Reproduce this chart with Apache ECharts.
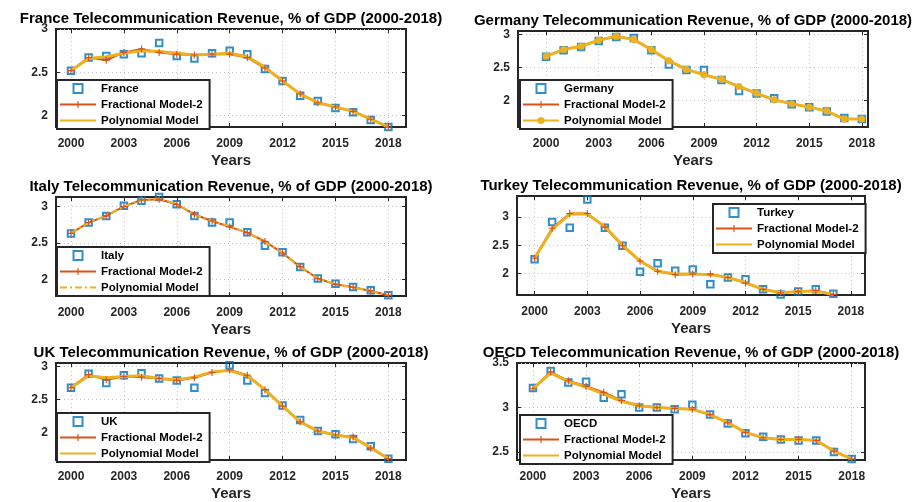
<!DOCTYPE html>
<html>
<head>
<meta charset="utf-8">
<script src="https://cdn.jsdelivr.net/npm/echarts@6/dist/echarts.min.js"></script>
<style>
  html, body { margin: 0; padding: 0; background: #ffffff; }
  #chart { width: 924px; height: 502px; }
</style>
</head>
<body>
<div id="chart"></div>
<script>
// Telecommunication revenue as % of GDP, observed values and two fitted models.
const years = [2000, 2001, 2002, 2003, 2004, 2005, 2006, 2007, 2008, 2009,
               2010, 2011, 2012, 2013, 2014, 2015, 2016, 2017, 2018];
const yearTicks = [2000, 2003, 2006, 2009, 2012, 2015, 2018];
const revenueTicks = [2, 2.5, 3];
const oecdTicks = [2.5, 3, 3.5];

const franceRevenue    = [2.52, 2.67, 2.69, 2.71, 2.72, 2.84, 2.69, 2.66, 2.72, 2.75, 2.71, 2.54, 2.40, 2.23, 2.17, 2.09, 2.04, 1.95, 1.87];
const franceFractional = [2.52, 2.67, 2.64, 2.73, 2.77, 2.73, 2.71, 2.70, 2.71, 2.71, 2.67, 2.55, 2.40, 2.25, 2.15, 2.10, 2.05, 1.96, 1.87];
const francePolynomial = [2.52, 2.66, 2.68, 2.72, 2.75, 2.74, 2.72, 2.70, 2.71, 2.72, 2.68, 2.56, 2.40, 2.25, 2.15, 2.10, 2.05, 1.96, 1.87];

const germanyRevenue    = [2.66, 2.76, 2.81, 2.90, 2.96, 2.945, 2.76, 2.545, 2.46, 2.46, 2.31, 2.145, 2.105, 2.035, 1.945, 1.90, 1.835, 1.735, 1.72];
const germanyFractional = [2.67, 2.77, 2.82, 2.91, 2.97, 2.92, 2.77, 2.60, 2.47, 2.39, 2.32, 2.21, 2.11, 2.01, 1.95, 1.90, 1.84, 1.72, 1.72];
const germanyPolynomial = [2.67, 2.77, 2.82, 2.91, 2.97, 2.92, 2.77, 2.60, 2.47, 2.39, 2.32, 2.21, 2.11, 2.01, 1.95, 1.90, 1.84, 1.72, 1.72];

const italyRevenue    = [2.63, 2.78, 2.87, 3.01, 3.08, 3.13, 3.03, 2.87, 2.78, 2.78, 2.645, 2.46, 2.37, 2.17, 2.01, 1.94, 1.895, 1.85, 1.78];
const italyFractional = [2.63, 2.78, 2.87, 3.00, 3.09, 3.10, 3.03, 2.89, 2.80, 2.72, 2.64, 2.52, 2.36, 2.17, 2.01, 1.93, 1.89, 1.84, 1.78];
const italyPolynomial = [2.63, 2.78, 2.87, 3.00, 3.09, 3.11, 3.03, 2.89, 2.80, 2.73, 2.64, 2.51, 2.36, 2.17, 2.01, 1.93, 1.89, 1.84, 1.78];

// Turkey series stop at 2017
const turkeyRevenue    = [2.25, 2.91, 2.81, 3.31, 2.81, 2.49, 2.03, 2.18, 2.05, 2.07, 1.81, 1.93, 1.90, 1.72, 1.63, 1.68, 1.72, 1.64];
const turkeyFractional = [2.27, 2.80, 3.06, 3.06, 2.82, 2.49, 2.22, 2.04, 1.98, 1.99, 1.99, 1.93, 1.83, 1.72, 1.66, 1.68, 1.70, 1.63];
const turkeyPolynomial = [2.27, 2.78, 3.05, 3.05, 2.83, 2.50, 2.22, 2.04, 1.99, 1.99, 1.98, 1.93, 1.84, 1.72, 1.66, 1.68, 1.69, 1.63];

const ukRevenue    = [2.68, 2.89, 2.75, 2.87, 2.90, 2.82, 2.79, 2.68, 3.06, 3.02, 2.79, 2.60, 2.41, 2.19, 2.02, 1.97, 1.90, 1.79, 1.60];
const ukFractional = [2.68, 2.88, 2.80, 2.85, 2.84, 2.82, 2.79, 2.83, 2.91, 2.95, 2.87, 2.65, 2.40, 2.16, 2.02, 1.96, 1.93, 1.76, 1.60];
const ukPolynomial = [2.68, 2.86, 2.83, 2.85, 2.86, 2.82, 2.80, 2.84, 2.92, 2.94, 2.86, 2.65, 2.40, 2.16, 2.02, 1.96, 1.92, 1.77, 1.60];

const oecdRevenue    = [3.22, 3.41, 3.28, 3.29, 3.11, 3.15, 3.00, 3.00, 2.98, 3.03, 2.92, 2.82, 2.71, 2.67, 2.64, 2.63, 2.63, 2.50, 2.42];
const oecdFractional = [3.21, 3.40, 3.30, 3.24, 3.17, 3.08, 3.02, 3.00, 2.99, 2.98, 2.92, 2.83, 2.72, 2.66, 2.64, 2.64, 2.63, 2.51, 2.42];
const oecdPolynomial = [3.21, 3.39, 3.29, 3.23, 3.15, 3.07, 3.02, 3.00, 2.99, 2.98, 2.92, 2.83, 2.72, 2.66, 2.64, 2.64, 2.63, 2.51, 2.42];

const FRACTIONAL = 'Fractional Model-2';
const POLYNOMIAL = 'Polynomial Model';

// Panel layout: plot box in pixels, axis ranges, legend placement, polynomial line look
const panels = [
  { country: 'France',  actual: franceRevenue,  frac: franceFractional,  poly: francePolynomial,  yTicks: revenueTicks,
    box: { left: 56, top: 29, width: 350, height: 98 },  x: [1999.15, 2019.0], y: [1.87, 3.0],
    legendPos: { left: 57, top: 80 }, polyLook: 'solid' },
  { country: 'Germany', actual: germanyRevenue, frac: germanyFractional, poly: germanyPolynomial, yTicks: revenueTicks,
    box: { left: 518, top: 31, width: 350, height: 96 }, x: [1998.4, 2018.35], y: [1.60, 3.05],
    legendPos: { left: 520, top: 80 }, polyLook: 'dots' },
  { country: 'Italy',   actual: italyRevenue,   frac: italyFractional,   poly: italyPolynomial,   yTicks: revenueTicks,
    box: { left: 56, top: 197, width: 350, height: 99 }, x: [1999.15, 2019.0], y: [1.77, 3.13],
    legendPos: { left: 57, top: 247 }, polyLook: 'dashdot' },
  { country: 'Turkey',  actual: turkeyRevenue,  frac: turkeyFractional,  poly: turkeyPolynomial,  yTicks: revenueTicks,
    box: { left: 517, top: 196, width: 348, height: 99 }, x: [1999.0, 2018.8], y: [1.62, 3.37],
    legendPos: { left: 713, top: 204 }, polyLook: 'solid' },
  { country: 'UK',      actual: ukRevenue,      frac: ukFractional,      poly: ukPolynomial,      yTicks: revenueTicks,
    box: { left: 56, top: 363, width: 350, height: 99 }, x: [1999.15, 2019.0], y: [1.58, 3.055],
    legendPos: { left: 57, top: 413 }, polyLook: 'solid' },
  { country: 'OECD',    actual: oecdRevenue,    frac: oecdFractional,    poly: oecdPolynomial,    yTicks: oecdTicks,
    box: { left: 517, top: 363, width: 348, height: 99 }, x: [1999.1, 2018.75], y: [2.41, 3.5],
    legendPos: { left: 520, top: 415 }, polyLook: 'solid' }
];

const FONT = "'Liberation Sans', Arial, Helvetica, sans-serif";
const AXIS_COLOR = '#262626';
const BLUE = '#0072BD';
const ORANGE = '#D95319';
const YELLOW = '#EDB120';
const PLUS = 'path://M4.2,0 L5.8,0 L5.8,4.2 L10,4.2 L10,5.8 L5.8,5.8 L5.8,10 L4.2,10 L4.2,5.8 L0,5.8 L0,4.2 L4.2,4.2 Z';
const SQUARE = 'path://M0,0 L10,0 L10,10 L0,10 Z';

const toPoints = values => values.map((v, i) => [years[i], v]);

const grids = [], xAxes = [], yAxes = [], series = [], legends = [], titles = [];

panels.forEach((p, i) => {
  grids.push({
    left: p.box.left, top: p.box.top, width: p.box.width, height: p.box.height,
    show: true, borderColor: AXIS_COLOR, borderWidth: 2, backgroundColor: '#ffffff'
  });

  titles.push({
    text: p.country + ' Telecommunication Revenue, % of GDP (2000-2018)',
    left: p.box.left + p.box.width / 2, top: p.box.top - 18,
    textAlign: 'center', padding: 0,
    textStyle: { fontFamily: FONT, fontSize: 15, fontWeight: 'bold', color: '#000000' }
  });

  const tickStyle = { show: true, inside: true, length: 4, lineStyle: { color: AXIS_COLOR, width: 1 } };

  // bottom axis with labels and grid lines
  xAxes.push({
    gridIndex: i, type: 'value', position: 'bottom', min: p.x[0], max: p.x[1],
    axisLine: { show: false },
    axisTick: Object.assign({ customValues: yearTicks }, tickStyle),
    axisLabel: {
      customValues: yearTicks, formatter: v => String(v), margin: 11,
      fontFamily: FONT, fontSize: 12, fontWeight: 'bold', color: AXIS_COLOR
    },
    splitLine: { show: true, lineStyle: { type: [1, 3], color: '#c4c4c4', width: 1 } },
    name: 'Years', nameLocation: 'middle', nameGap: 26,
    nameTextStyle: { fontFamily: FONT, fontSize: 15, fontWeight: 'bold', color: AXIS_COLOR }
  });
  // top axis: ticks only
  xAxes.push({
    gridIndex: i, type: 'value', position: 'top', min: p.x[0], max: p.x[1],
    axisLine: { show: false },
    axisTick: Object.assign({ customValues: yearTicks }, tickStyle),
    axisLabel: { show: false }, splitLine: { show: false }
  });
  // left axis with labels and grid lines
  yAxes.push({
    gridIndex: i, type: 'value', position: 'left', min: p.y[0], max: p.y[1],
    axisLine: { show: false },
    axisTick: Object.assign({ customValues: p.yTicks }, tickStyle),
    axisLabel: {
      customValues: p.yTicks, formatter: v => String(v), margin: 8,
      fontFamily: FONT, fontSize: 12, fontWeight: 'bold', color: AXIS_COLOR
    },
    splitLine: { show: true, lineStyle: { type: [1, 3], color: '#c4c4c4', width: 1 } }
  });
  // right axis: ticks only
  yAxes.push({
    gridIndex: i, type: 'value', position: 'right', min: p.y[0], max: p.y[1],
    axisLine: { show: false },
    axisTick: Object.assign({ customValues: p.yTicks }, tickStyle),
    axisLabel: { show: false }, splitLine: { show: false }
  });

  const xi = i * 2, yi = i * 2;
  const actualName = p.country;
  const fracName = p.country + '|' + FRACTIONAL;
  const polyName = p.country + '|' + POLYNOMIAL;

  series.push({
    name: actualName, type: 'scatter', xAxisIndex: xi, yAxisIndex: yi,
    data: toPoints(p.actual), symbol: 'rect', symbolSize: 6.5,
    itemStyle: { color: 'rgba(0,0,0,0)', borderColor: BLUE, borderWidth: 2 },
    emphasis: { disabled: true }, silent: true
  });
  series.push({
    name: fracName, type: 'line', xAxisIndex: xi, yAxisIndex: yi,
    data: toPoints(p.frac), symbol: PLUS, symbolSize: 7, showSymbol: true,
    lineStyle: { color: ORANGE, width: 2 },
    itemStyle: { color: ORANGE, borderWidth: 0 },
    emphasis: { disabled: true }, silent: true, animation: false
  });

  const polySeries = {
    name: polyName, type: 'line', xAxisIndex: xi, yAxisIndex: yi,
    data: toPoints(p.poly), symbol: 'none', z: 3,
    lineStyle: { color: YELLOW, width: 3 },
    itemStyle: { color: YELLOW, borderWidth: 0 },
    emphasis: { disabled: true }, silent: true, animation: false
  };
  if (p.polyLook === 'dots') {
    polySeries.symbol = 'circle';
    polySeries.symbolSize = 7;
    polySeries.showSymbol = true;
  } else if (p.polyLook === 'dashdot') {
    polySeries.lineStyle.type = [7, 3, 2, 3];
    polySeries.lineStyle.width = 2;
  }
  series.push(polySeries);

  const polyLegendItem = p.polyLook === 'dots'
    ? { name: polyName }
    : { name: polyName, itemStyle: { opacity: 0 } };

  legends.push({
    data: [{ name: actualName, icon: SQUARE }, { name: fracName }, polyLegendItem],
    left: p.legendPos.left, top: p.legendPos.top,
    orient: 'vertical', itemWidth: 36, itemHeight: 9, itemGap: 3,
    padding: [2, 7, 2, 2], symbolKeepAspect: true,
    backgroundColor: '#ffffff', borderColor: AXIS_COLOR, borderWidth: 2, borderRadius: 0,
    selectedMode: false,
    formatter: name => name.split('|').pop(),
    textStyle: { fontFamily: FONT, fontSize: 11.5, fontWeight: 'bold', color: '#000000', lineHeight: 13 }
  });
});

const chart = echarts.init(document.getElementById('chart'), null, { renderer: 'canvas' });
chart.setOption({
  backgroundColor: '#ffffff',
  animation: false,
  title: titles,
  grid: grids,
  xAxis: xAxes,
  yAxis: yAxes,
  legend: legends,
  tooltip: { show: false },
  series: series
});
</script>
</body>
</html>
